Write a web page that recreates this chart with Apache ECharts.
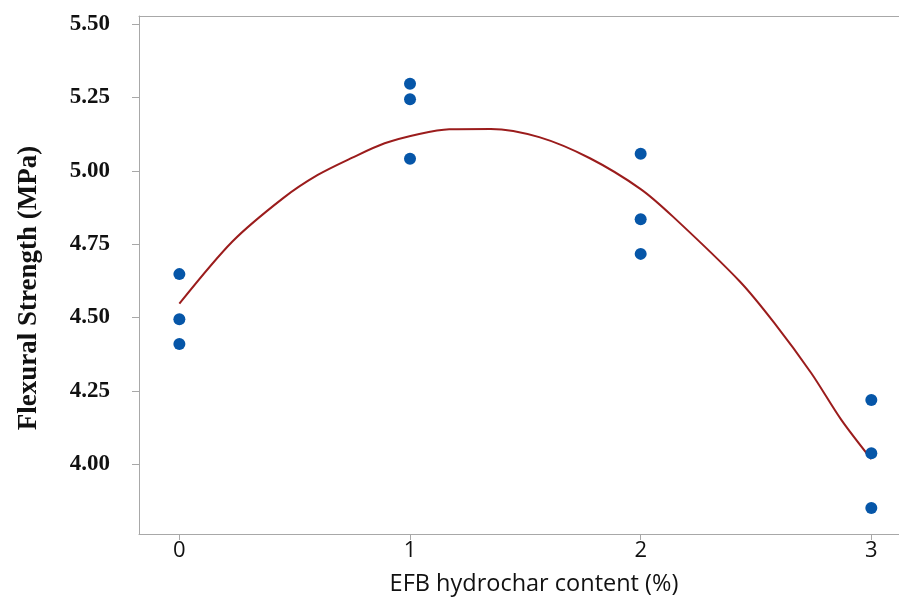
<!DOCTYPE html>
<html>
<head>
<meta charset="utf-8">
<script src="https://cdn.jsdelivr.net/npm/echarts@6/dist/echarts.min.js"></script>
<style>html,body{margin:0;padding:0;background:#fff;}#c{width:899px;height:601px;}</style>
</head>
<body>
<div id="c"></div>
<script>
// Observed data (EFB hydrochar content %, flexural strength MPa)
const pointX = [0, 0, 0, 1, 1, 1, 2, 2, 2, 3, 3, 3];
const pointY = [4.648, 4.494, 4.410, 5.297, 5.244, 5.041, 5.058, 4.835, 4.717, 4.219, 4.037, 3.851];
// Fitted curve
const fitX = [0, 0.23, 0.45, 0.6, 0.75, 0.89, 1.04, 1.17, 1.35, 1.56, 1.78, 2.0, 2.14, 2.43, 2.58, 2.74, 2.87, 3.0];
const fitY = [4.547, 4.759, 4.907, 4.986, 5.045, 5.094, 5.126, 5.142, 5.143, 5.115, 5.043, 4.938, 4.844, 4.623, 4.481, 4.310, 4.151, 4.017];
// Tick labels
const xTicks = [0, 1, 2, 3];
const yTicks = [4.00, 4.25, 4.50, 4.75, 5.00, 5.25, 5.50];
const xTitle = 'EFB hydrochar content (%)';
const yTitle = 'Flexural Strength (MPa)';

const chart = echarts.init(document.getElementById('c'), null, {renderer: 'canvas'});
const axisGray = '#a8a8a8';
chart.setOption({
  animation: false,
  backgroundColor: '#ffffff',
  grid: {left: 139, right: 0, top: 16, bottom: 67},
  xAxis: [{
    type: 'value', min: -0.175, max: 3.12,
    name: xTitle, nameLocation: 'middle', nameGap: 38,
    nameTextStyle: {fontFamily: 'Open Sans', fontSize: 23.5, color: '#111', padding: [0, 0, 0, 30]},
    axisLine: {show: true, onZero: false, lineStyle: {color: axisGray, width: 1}},
    axisTick: {show: true, length: 6, lineStyle: {color: axisGray}, customValues: xTicks},
    axisLabel: {fontFamily: 'Open Sans', fontSize: 22, color: '#111', margin: 6, customValues: xTicks, formatter: v => String(v)},
    splitLine: {show: false}
  }, {
    type: 'value', position: 'top', min: -0.175, max: 3.12,
    axisLine: {show: true, onZero: false, lineStyle: {color: axisGray, width: 1}},
    axisTick: {show: false}, axisLabel: {show: false}, splitLine: {show: false}
  }],
  yAxis: {
    type: 'value', min: 3.762, max: 5.528,
    name: yTitle, nameLocation: 'middle', nameGap: 96, nameRotate: 90,
    nameTextStyle: {fontFamily: 'Liberation Serif', fontWeight: 'bold', fontSize: 27, color: '#111', padding: [0, 26, 0, 0]},
    axisLine: {show: true, onZero: false, lineStyle: {color: axisGray, width: 1}},
    axisTick: {show: true, length: 7, lineStyle: {color: axisGray}, customValues: yTicks},
    axisLabel: {fontFamily: 'Liberation Serif', fontWeight: 'bold', fontSize: 23, color: '#111', margin: 29, customValues: yTicks, formatter: v => v.toFixed(2)},
    splitLine: {show: false}
  },
  series: [{
    type: 'line',
    data: fitX.map((x, i) => [x, fitY[i]]),
    smooth: 0.3, showSymbol: false,
    lineStyle: {color: '#9b1c1c', width: 2},
    z: 2
  }, {
    type: 'scatter',
    data: pointX.map((x, i) => [x, pointY[i]]),
    symbolSize: 12,
    itemStyle: {color: '#0656a8', opacity: 1},
    z: 3
  }]
});
</script>
</body>
</html>
